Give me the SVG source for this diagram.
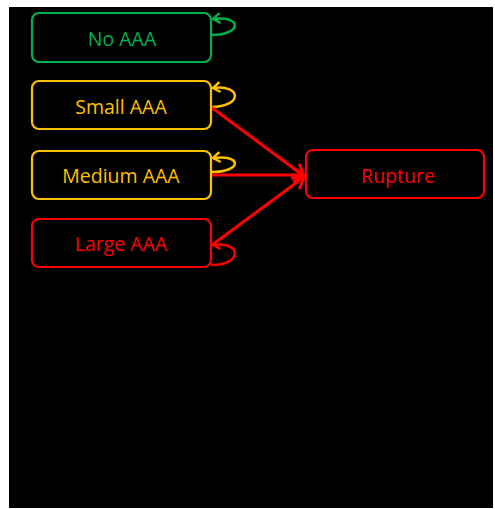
<svg xmlns="http://www.w3.org/2000/svg" width="495" height="509" viewBox="0 0 495 509">
<style>
.box{fill:none;stroke-width:2.2}
.t{font-family:"Open Sans","Liberation Sans",sans-serif;font-size:19.5px;text-anchor:middle}
.g{stroke:#00B050}.y{stroke:#FFC000}.r{stroke:#FF0000}
.loop{fill:none;stroke-width:2.5}
.arr{fill:none;stroke:#FF0000;stroke-width:3}
</style>
<defs>
<marker id="mg" markerUnits="userSpaceOnUse" markerWidth="20" markerHeight="20" refX="0" refY="0" viewBox="-10 -10 20 20" orient="auto"><path d="M-7,-5 L0,0 L-7,5" fill="none" stroke="#00B050" stroke-width="2.5"/></marker>
<marker id="my" markerUnits="userSpaceOnUse" markerWidth="20" markerHeight="20" refX="0" refY="0" viewBox="-10 -10 20 20" orient="auto"><path d="M-7,-5 L0,0 L-7,5" fill="none" stroke="#FFC000" stroke-width="2.5"/></marker>
<marker id="mr" markerUnits="userSpaceOnUse" markerWidth="20" markerHeight="20" refX="0" refY="0" viewBox="-10 -10 20 20" orient="auto"><path d="M-7,-5 L0,0 L-7,5" fill="none" stroke="#FF0000" stroke-width="2.5"/></marker>
<marker id="mR" markerUnits="userSpaceOnUse" markerWidth="30" markerHeight="30" refX="0" refY="0" viewBox="-15 -15 30 30" orient="auto"><path d="M-11,-7 L0,0 L-11,7" fill="none" stroke="#FF0000" stroke-width="3"/></marker>
</defs>
<rect x="9" y="7" width="484" height="501" fill="#000"/>
<g id="connectors">
<path class="loop g" d="M211,35 C243,35 242,15 213,19" marker-end="url(#mg)"/>
<path class="loop y" d="M211,107 C243,107 242,84 213,88" marker-end="url(#my)"/>
<path class="loop y" d="M211,172 C243,172 242,154 213,158" marker-end="url(#my)"/>
<path class="loop r" d="M211,265 C243,265 242,241 213,245" marker-end="url(#mr)"/>
<path class="arr" d="M211,107 L304,176" marker-end="url(#mR)"/>
<path class="arr" d="M211,175 L304,175" marker-end="url(#mR)"/>
<path class="arr" d="M212,245 L304,177" marker-end="url(#mR)"/>
</g>
<g id="no-aaa"><rect class="box g" x="32" y="13" width="179" height="49" rx="7"/><text class="t" x="122" y="46" fill="#00B050">No AAA</text></g>
<g id="small-aaa"><rect class="box y" x="32" y="81" width="179" height="48" rx="7"/><text class="t" x="121" y="114" fill="#FFC000">Small AAA</text></g>
<g id="medium-aaa"><rect class="box y" x="32" y="151" width="179" height="48" rx="7"/><text class="t" x="121" y="183" fill="#FFC000">Medium AAA</text></g>
<g id="large-aaa"><rect class="box r" x="32" y="219" width="179" height="48" rx="7"/><text class="t" x="121" y="251" fill="#FF0000">Large AAA</text></g>
<g id="rupture"><rect class="box r" x="306" y="150" width="178" height="48" rx="7"/><text class="t" x="398" y="183" fill="#FF0000">Rupture</text></g>
</svg>
